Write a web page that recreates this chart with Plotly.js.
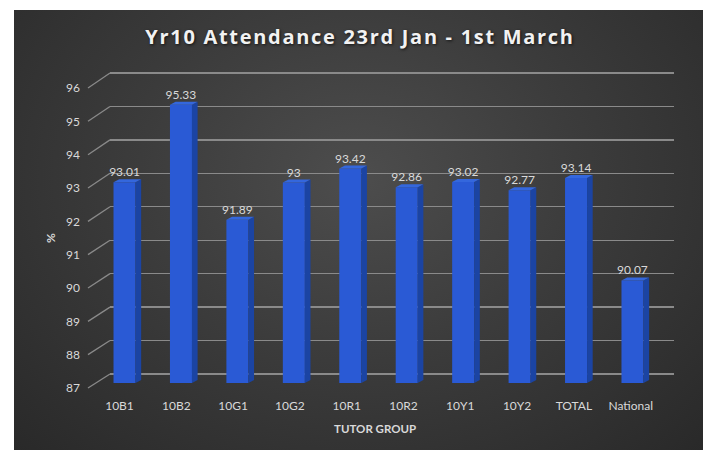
<!DOCTYPE html>
<html>
<head>
<meta charset="utf-8">
<script src="https://cdn.plot.ly/plotly-3.0.1.min.js"></script>
<style>
  html, body { margin: 0; padding: 0; background: #ffffff; }
  #bg { position: absolute; left: 14px; top: 10px; width: 689px; height: 440px;
        background: radial-gradient(ellipse farthest-corner at 50% 38%, #4d4d4d 0%, #3c3c3c 45%, #292929 100%); }
  #chart { position: absolute; left: 0; top: 0; width: 707px; height: 450px; }
  #chart .gtitle { letter-spacing: 1.7px; }
</style>
</head>
<body>
<div id="bg"></div>
<div id="chart"></div>
<script>
// ---- data ----
const categories = ['10B1', '10B2', '10G1', '10G2', '10R1', '10R2', '10Y1', '10Y2', 'TOTAL', 'National'];
const attendance = [93.01, 95.33, 91.89, 93, 93.42, 92.86, 93.02, 92.77, 93.14, 90.07];
const yTicks = [87, 88, 89, 90, 91, 92, 93, 94, 95, 96];

// ---- geometry (pixels in a 707x450 page) ----
const W = 707, H = 450;
const yRange = [87, 96];
const px = (v) => v / W;
const py = (v) => 1 - v / H;

// back wall grid: 87 at 374px, 96 at 73px; padded range so edge lines are drawn
const gridUnit = (374 - 73) / 9;
const gridPad = 0.3;
const gridRange = [87 - gridPad, 96 + gridPad];
const gridDomX = [px(110), px(674)];
const gridDomY = [py(374 + gridPad * gridUnit), py(73 - gridPad * gridUnit)];
const labDomX = [px(91.1), px(659.1)];
const labDomY = [py(388), py(88)];
const barDomX = [px(96.3), px(660.7)];
const barDomY = [py(383), py(82.4)];

const gridColor = '#8a8a8a';
const textColor = '#d9d9d9';
const font = 'Lato, "Open Sans", sans-serif';

const idx = categories.map((c, i) => i);
const barWidth = 0.39;
const depthX = 0.10, depthY = 0.09;

function fracIn(dom, rng, v) {
  return dom[0] + (dom[1] - dom[0]) * (v - rng[0]) / (rng[1] - rng[0]);
}

const shapes = [];
// diagonal lines from label plane to back wall
yTicks.forEach(v => {
  shapes.push({
    type: 'line', xref: 'paper', yref: 'paper', layer: 'below',
    x0: px(88), y0: fracIn(labDomY, yRange, v), x1: gridDomX[0], y1: fracIn(gridDomY, gridRange, v),
    line: { color: gridColor, width: 1.3 }
  });
});
// 3D side & top faces of bars
attendance.forEach((v, i) => {
  const xl = idx[i] - barWidth / 2, xr = idx[i] + barWidth / 2;
  shapes.push({
    type: 'path', xref: 'x3', yref: 'y3', layer: 'above',
    path: `M ${xr},${yRange[0]} L ${xr},${v} L ${xr + depthX},${v + depthY} L ${xr + depthX},${yRange[0] + depthY} Z`,
    fillcolor: '#1b44a3', line: { width: 0 }
  });
  shapes.push({
    type: 'path', xref: 'x3', yref: 'y3', layer: 'above',
    path: `M ${xl},${v} L ${xr},${v} L ${xr + depthX},${v + depthY} L ${xl + depthX},${v + depthY} Z`,
    fillcolor: '#3467dd', line: { width: 0 }
  });
});

const traces = [
  { type: 'scatter', x: [], y: [], xaxis: 'x', yaxis: 'y', hoverinfo: 'skip' },
  { type: 'scatter', x: [], y: [], xaxis: 'x2', yaxis: 'y2', hoverinfo: 'skip' },
  {
    type: 'bar', x: idx, y: attendance, xaxis: 'x3', yaxis: 'y3',
    width: barWidth,
    marker: { color: '#2a5ad5', line: { width: 0 } },
    text: attendance.map(String), textposition: 'outside', cliponaxis: false,
    constraintext: 'none',
    textfont: { family: font, size: 12, color: textColor },
    hoverinfo: 'skip'
  }
];

const layout = {
  width: W, height: H,
  margin: { l: 0, r: 0, t: 0, b: 0 },
  paper_bgcolor: 'rgba(0,0,0,0)',
  plot_bgcolor: 'rgba(0,0,0,0)',
  showlegend: false,
  title: {
    text: 'Yr10 Attendance 23rd Jan - 1st March',
    x: 360 / W, xanchor: 'center', y: py(37), yanchor: 'middle',
    font: { family: '"Open Sans", sans-serif', size: 20, color: '#f2f2f2', weight: 700,
            shadow: '1px 1px 3px rgba(0,0,0,0.7)' }
  },
  xaxis: { domain: gridDomX, anchor: 'y', range: [0, 1], showgrid: false, zeroline: false,
           showticklabels: false, showline: false, ticks: '' },
  yaxis: { domain: gridDomY, anchor: 'x', range: gridRange, tickvals: yTicks,
           showgrid: true, gridcolor: gridColor, gridwidth: 1.3, zeroline: false,
           showticklabels: false, showline: false, ticks: '' },
  xaxis2: { domain: labDomX, anchor: 'y2', range: [-0.5, 9.5], tickvals: idx, ticktext: categories,
            showgrid: false, zeroline: false, showline: false, ticks: '', ticklabelstandoff: 9,
            tickfont: { family: font, size: 12, color: textColor },
            title: { text: 'TUTOR GROUP', standoff: 12,
                     font: { family: font, size: 11.5, color: textColor, weight: 700 } } },
  yaxis2: { domain: labDomY, anchor: 'free', position: px(88), range: yRange, tickvals: yTicks,
            showgrid: false, zeroline: false, showline: false, ticks: '', ticklabelstandoff: 8,
            tickfont: { family: font, size: 12, color: textColor },
            title: { text: '%', standoff: 6,
                     font: { family: font, size: 12, color: textColor, weight: 700 } } },
  xaxis3: { domain: barDomX, anchor: 'y3', range: [-0.5, 9.5], showgrid: false, zeroline: false,
            showticklabels: false, showline: false, ticks: '' },
  yaxis3: { domain: barDomY, anchor: 'x3', range: yRange, showgrid: false, zeroline: false,
            showticklabels: false, showline: false, ticks: '' },
  shapes: shapes
};

Plotly.newPlot('chart', traces, layout, { displayModeBar: false, staticPlot: true });
</script>
</body>
</html>
